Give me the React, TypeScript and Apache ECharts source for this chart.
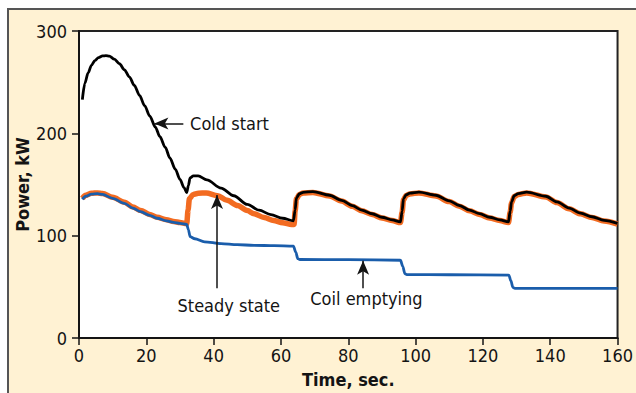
import React, { useEffect, useRef } from "react";
import * as echarts from "echarts";

// ---- data (time in sec, power in kW) ----
const timeTicks = [0, 20, 40, 60, 80, 100, 120, 140, 160];
const powerTicks = [0, 100, 200, 300];

const coldStart: [number, number][] = [
  [1, 233], [1.75, 249], [2.7, 259], [3.7, 266.5], [4.7, 271], [5.8, 274], [7, 275.6],
  [8, 276], [9, 275.5], [10.5, 272.5], [12, 268], [13.5, 262], [15, 255], [16.4, 247],
  [18, 237], [19.5, 227], [21, 217], [22.7, 206], [24, 197], [25.6, 186.5], [27, 176],
  [28.6, 165], [30, 155], [31.2, 147], [32, 142], [32.5, 149], [33, 156.5], [34, 158.5],
  [35.4, 158.5], [38, 154.5], [42.2, 146.5], [46, 139], [50, 130.5], [53.5, 125],
  [57, 120.5], [60.5, 117], [63.7, 114.5], [64.2, 125], [64.6, 137], [65.5, 141],
  [66.6, 142.4], [69.5, 143], [74.4, 139.5], [78, 134.5], [81.2, 129.4], [84, 125],
  [87.1, 121.4], [90, 118], [93, 115.5], [95.5, 113.5], [96, 124], [96.4, 136],
  [97.2, 140], [98.3, 141.5], [101, 142.5], [106, 139.5], [110, 134], [113, 129.5],
  [116, 125], [119, 121.5], [122, 118], [125, 115.5], [127.6, 113.5], [128.1, 124],
  [128.5, 133], [129.3, 139], [130.5, 141], [133, 142.5], [138.7, 138.5], [142, 133],
  [145.6, 127], [149, 122], [152.4, 118.5], [156, 115], [160, 112],
];

const steadyState: [number, number][] = [
  [1, 136.5], [2, 139.5], [3.7, 141.4], [5.5, 141.8], [7, 141.2], [10, 137.5],
  [13.5, 132.7], [16, 128], [18.3, 124.6], [21, 120.8], [23.2, 118], [26, 115.5],
  [28.1, 113.9], [30, 112.8], [32, 111.6], [32.4, 125], [32.8, 136], [33.9, 140.3],
  [35.5, 141.5], [37.8, 141.7], [41.2, 139.1], [44, 134.5], [47.1, 129.4], [50, 124.5],
  [52, 121.4], [55, 117.8], [57.8, 114.9], [60.5, 112.7], [63.2, 110.9], [63.9, 111],
  [64.2, 124], [64.6, 136], [65.5, 140.3], [66.6, 141.7], [69.5, 142.3], [74.4, 138.8],
  [78, 133.8], [81.2, 128.7], [84, 124.3], [87.1, 120.7], [90, 117.3], [93, 114.8],
  [95.5, 112.8], [96, 123], [96.4, 135], [97.2, 139.3], [98.3, 140.8], [101, 141.8],
  [106, 138.8], [110, 133.3], [113, 128.8], [116, 124.3], [119, 120.8], [122, 117.3],
  [125, 114.8], [127.6, 112.8], [128.1, 123], [128.5, 132], [129.3, 138.3], [130.5, 140.3],
  [133, 141.8], [138.7, 137.8], [142, 132.3], [145.6, 126.3], [149, 121.3], [152.4, 117.8],
  [156, 114.3], [160, 111.3],
];

const coilEmptying: [number, number][] = [
  [1, 135.5], [2, 138.5], [3.7, 140.5], [5.5, 141], [7, 140.3], [10, 136.5],
  [13.5, 131.5], [16, 127], [18.3, 123.5], [21, 119.8], [23.2, 117], [26, 114.5],
  [28.1, 113], [30, 112], [32, 111], [32.5, 106], [33, 99], [34.4, 97], [37.3, 94],
  [42.2, 92.2], [47, 91.2], [52, 90.6], [58, 90.2], [63.7, 89.8], [64.4, 84], [65, 77.5],
  [65.6, 76.7], [80, 76.5], [95.5, 76], [96.2, 70], [96.8, 63], [97.4, 62], [110, 61.8],
  [127.7, 61.5], [128.3, 56], [128.9, 49.5], [129.5, 48.5], [145, 48.4], [160, 48.4],
];

// annotations
const labels = ["Cold start", "Steady state", "Coil emptying"];
const labelPos: [number, number][] = [[33, 210], [44.5, 32], [85.4, 38.8]];
const arrows: [[number, number], [number, number]][] = [
  [[31, 209.7], [22.4, 209.7]],
  [[41, 48.5], [41, 139.8]],
  [[84.4, 48.5], [84.4, 75.5]],
];

const FONT = "'Liberation Sans Narrow', 'DejaVu Sans Condensed', 'Arial Narrow', sans-serif";
const INK = "#141414";

export default function App() {
  const ref = useRef<HTMLDivElement>(null);
  useEffect(() => {
    document.body.style.margin = "0";
    document.body.style.overflow = "hidden";
    const chart = echarts.init(ref.current!, undefined, { renderer: "svg" });
    const lineBase = { type: "line" as const, showSymbol: false, smooth: 0.3, smoothMonotone: "x" as const, silent: true };
    chart.setOption({
      animation: false,
      grid: {
        left: 79, top: 31, right: 10, bottom: 53,
        show: true, backgroundColor: "#ffffff", borderColor: "#222", borderWidth: 2,
      },
      xAxis: {
        type: "value", min: timeTicks[0], max: timeTicks[timeTicks.length - 1], interval: 20,
        name: "Time, sec.", nameLocation: "middle", nameGap: 32,
        nameTextStyle: { fontFamily: FONT, fontSize: 18, fontWeight: "bold", color: INK },
        axisLine: { lineStyle: { color: INK, width: 2 } },
        axisTick: { show: true, length: 7, lineStyle: { color: INK, width: 1.5 } },
        axisLabel: { margin: 8, fontFamily: FONT, fontSize: 18, color: INK },
        splitLine: { show: false },
      },
      yAxis: {
        type: "value", min: powerTicks[0], max: powerTicks[powerTicks.length - 1], interval: 100,
        name: "Power, kW", nameLocation: "middle", nameGap: 48, nameMoveOverlap: false,
        nameTextStyle: { fontFamily: FONT, fontSize: 18, fontWeight: "bold", color: INK },
        axisLine: { show: true, lineStyle: { color: INK, width: 2 } },
        axisTick: { show: true, length: 7, lineStyle: { color: INK, width: 1.5 } },
        axisLabel: { margin: 12, fontFamily: FONT, fontSize: 18, color: INK },
        splitLine: { show: false },
      },
      series: [
        { ...lineBase, name: "Steady state", data: steadyState, z: 2, lineStyle: { color: "#F26B21", width: 5.5 } },
        { ...lineBase, name: "Coil emptying", data: coilEmptying, z: 3, lineStyle: { color: "#1A5DAB", width: 2.8 } },
        { ...lineBase, name: "Cold start", data: coldStart, z: 4, lineStyle: { color: "#000", width: 2.8 } },
        {
          type: "line", name: "notes", data: [], z: 5, silent: true,
          markLine: {
            silent: true, animation: false,
            symbol: ["none", "arrow"], symbolSize: [9, 14],
            lineStyle: { color: INK, width: 1.5, type: "solid" },
            label: { show: false },
            data: arrows.map(([a, b]) => [{ coord: a }, { coord: b }]),
          },
          markPoint: {
            silent: true, animation: false,
            symbol: "circle", symbolSize: 0,
            data: labels.map((name, i) => ({
              name, coord: labelPos[i],
              label: {
                show: true, formatter: name, fontFamily: FONT, fontSize: 18, color: INK,
                position: i === 0 ? "right" : "inside", distance: 0,
              },
            })),
          },
        },
      ],
    });
    return () => chart.dispose();
  }, []);
  return (
    <div style={{ position: "relative", width: 636, height: 393, background: "#fff", overflow: "hidden" }}>
      <div style={{ position: "absolute", left: 7, top: 8, width: 700, height: 500, background: "#FFF2D3", borderLeft: "2px solid #555", borderTop: "2px solid #555" }} />
      <div ref={ref} style={{ position: "absolute", left: 0, top: 0, width: 636, height: 393 }} />
    </div>
  );
}
